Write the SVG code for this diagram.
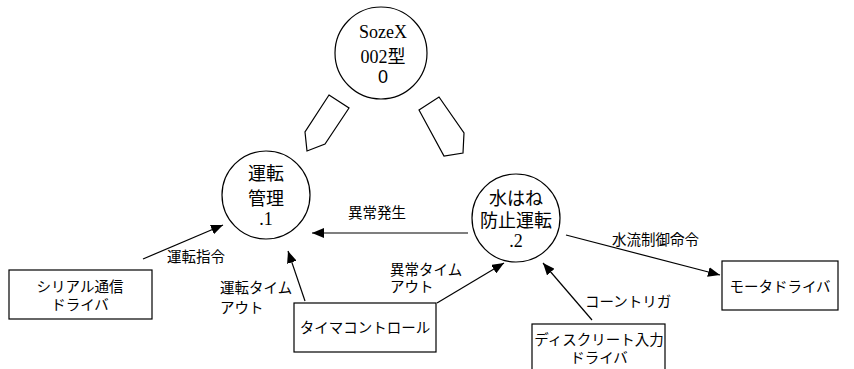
<svg xmlns="http://www.w3.org/2000/svg" width="854" height="369" viewBox="0 0 854 369">
<style>
.shape{fill:#fff;stroke:#000;stroke-width:1.2}
.line{stroke:#000;stroke-width:1.2;fill:none}
.ja{font-family:"Liberation Sans","Noto Sans CJK JP",sans-serif;font-size:14.5px;fill:#000}
.nj{font-family:"Liberation Sans","Noto Sans CJK JP",sans-serif;font-size:18px;fill:#000;text-anchor:middle}
.ns{font-family:"Liberation Serif","DejaVu Serif","Noto Sans CJK JP",serif;font-size:18px;fill:#000;text-anchor:middle}
.mid{text-anchor:middle}
</style>
<defs>
<marker id="ah" viewBox="0 0 12 10" refX="12" refY="5" markerWidth="12" markerHeight="10" markerUnits="userSpaceOnUse" orient="auto">
<path d="M0,0 L12,5 L0,10 z" fill="#000"/>
</marker>
</defs>
<g id="connectors">
<line class="line" x1="143" y1="259" x2="223" y2="225" marker-end="url(#ah)"/>
<line class="line" x1="305" y1="301" x2="288" y2="251" marker-end="url(#ah)"/>
<line class="line" x1="468" y1="233" x2="312" y2="233" marker-end="url(#ah)"/>
<line class="line" x1="437" y1="303" x2="504" y2="263" marker-end="url(#ah)"/>
<line class="line" x1="592" y1="320" x2="543" y2="263" marker-end="url(#ah)"/>
<line class="line" x1="566" y1="235" x2="720" y2="275" marker-end="url(#ah)"/>
<polygon class="shape" points="329,95 349,108 325,144 307,151 305,132"/>
<polygon class="shape" points="419,110 439,97 464,133 463,153 444,156"/>
<text class="ja" x="167" y="262">運転指令</text>
<text class="ja" x="220" y="293">運転タイム</text>
<text class="ja" x="220" y="313">アウト</text>
<text class="ja" x="348" y="218">異常発生</text>
<text class="ja" x="390" y="275">異常タイム</text>
<text class="ja" x="390" y="292">アウト</text>
<text class="ja" x="585" y="307">コーントリガ</text>
<text class="ja" x="612" y="245">水流制御命令</text>
</g>
<g id="node0">
<circle class="shape" cx="381" cy="53" r="46"/>
<text class="ns" x="383" y="38">SozeX</text>
<text class="ns" x="383" y="63">002型</text>
<text class="nj" x="383" y="83">0</text>
</g>
<g id="node1">
<circle class="shape" cx="266" cy="195" r="44"/>
<text class="nj" x="266" y="180">運転</text>
<text class="nj" x="266" y="205">管理</text>
<text class="ns" x="266" y="225">.1</text>
</g>
<g id="node2">
<circle class="shape" cx="516" cy="218" r="44"/>
<text class="nj" x="516" y="205">水はね</text>
<text class="nj" x="516" y="227">防止運転</text>
<text class="ns" x="516" y="247">.2</text>
</g>
<g id="serial">
<rect class="shape" x="9" y="270" width="143" height="49"/>
<text class="ja mid" x="80" y="292">シリアル通信</text>
<text class="ja mid" x="80" y="310">ドライバ</text>
</g>
<g id="timer">
<rect class="shape" x="294" y="303" width="142" height="49"/>
<text class="ja mid" x="365" y="333">タイマコントロール</text>
</g>
<g id="discrete">
<rect class="shape" x="532" y="324" width="133" height="50"/>
<text class="ja mid" x="599" y="345">ディスクリート入力</text>
<text class="ja mid" x="599" y="363">ドライバ</text>
</g>
<g id="motor">
<rect class="shape" x="722" y="261" width="116" height="49"/>
<text class="ja mid" x="780" y="292">モータドライバ</text>
</g>
</svg>
